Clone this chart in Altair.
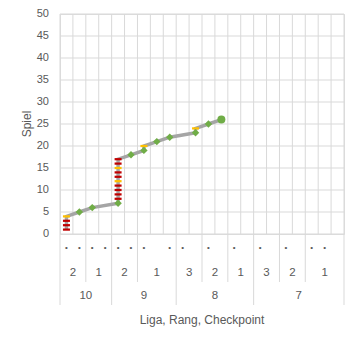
import altair as alt
import pandas as pd

# ---- category axis (one entry per checkpoint category) ----
cat_liga = ["10", "10", "10", "10", "9", "9", "9", "9", "9",
            "8", "8", "8", "8", "8", "8", "7", "7", "7", "7", "7", "7", "7"]
cat_rang = ["2", "2", "1", "1", "2", "2", "1", "1", "1",
            "3", "3", "2", "2", "1", "1", "3", "3", "2", "2", "1", "1", "1"]
cat_checkpoint = ["•", "•", "•", "•", "•", "•", "•", "", "•",
                  "•", "", "•", "", "•", "", "•", "", "•", "", "•", "•", ""]

# ---- series: game number, category index, marker type ----
spiel = [1, 2, 3, 4, 5, 6, 7, 8, 9, 10, 11, 12, 13, 14, 15, 16, 17,
         18, 19, 20, 21, 22, 23, 24, 25, 26]
spiel_cat = [0, 0, 0, 0, 1, 2, 4, 4, 4, 4, 4, 4, 4, 4, 4, 4, 4,
             5, 6, 6, 7, 8, 10, 10, 11, 12]
spiel_typ = ["rot", "rot", "rot", "gelb", "grün", "grün", "grün",
             "rot", "rot", "rot", "rot", "gelb", "rot", "rot", "gelb", "rot", "rot",
             "grün", "grün", "gelb", "grün", "grün", "grün", "gelb", "grün", "aktuell"]
y_ticks = [0, 5, 10, 15, 20, 25, 30, 35, 40, 45, 50]

N = len(cat_liga)
W, H = 284, 220
GRID = "#D9D9D9"
TXT = "#595959"
FONT = "Liberation Sans"

pts = pd.DataFrame({"x": [c + 0.5 for c in spiel_cat], "Spiel": spiel, "typ": spiel_typ})

xs = alt.Scale(domain=[0, N], nice=False, zero=False)
ys = alt.Scale(domain=[0, 50], nice=False, zero=True)

def X():
    return alt.X("x:Q", scale=xs, axis=None)

def Y():
    return alt.Y("Spiel:Q", scale=ys, axis=None)

# gridlines as rules (vertical at every category boundary, horizontal at each tick)
vgrid = alt.Chart(pd.DataFrame({"x": list(range(N + 1))})).mark_rule(
    color=GRID, strokeWidth=1).encode(x=X(), y=alt.value(0), y2=alt.value(H))
hgrid = alt.Chart(pd.DataFrame({"Spiel": y_ticks})).mark_rule(
    color=GRID, strokeWidth=1).encode(y=Y(), x=alt.value(0), x2=alt.value(W))
ylab = alt.Chart(pd.DataFrame({"Spiel": y_ticks})).mark_text(
    font=FONT, fontSize=11, color=TXT, align="right", baseline="middle").encode(
    y=Y(), x=alt.value(-11), text="Spiel:Q")
ytitle = alt.Chart(pd.DataFrame({"t": ["Spiel"]})).mark_text(
    font=FONT, fontSize=12, color=TXT, angle=270, align="center", baseline="middle").encode(
    x=alt.value(-33), y=alt.value(H / 2), text="t:N")

line = alt.Chart(pts).mark_line(color="#A5A5A5", strokeWidth=3.5).encode(
    x=X(), y=Y(), order="Spiel:Q")

dash = "M-1,-0.32L1,-0.32L1,0.32L-1,0.32Z"
red = alt.Chart(pts).transform_filter(alt.datum.typ == "rot").mark_point(
    shape=dash, filled=True, color="#C00000", size=49, opacity=1).encode(x=X(), y=Y())
yellow = alt.Chart(pts).transform_filter(alt.datum.typ == "gelb").mark_point(
    shape=dash, filled=True, color="#FFC000", size=49, opacity=1).encode(x=X(), y=Y())
green = alt.Chart(pts).transform_filter(alt.datum.typ == "grün").mark_point(
    shape="diamond", filled=True, color="#70AD47", size=55, opacity=1).encode(x=X(), y=Y())
last = alt.Chart(pts).transform_filter(alt.datum.typ == "aktuell").mark_point(
    shape="circle", filled=True, color="#70AD47", size=64, opacity=1).encode(x=X(), y=Y())

# ---- multi-level category labels ----
cp = pd.DataFrame({"x": [i + 0.5 for i in range(N)], "t": cat_checkpoint})

def groups(keys):
    out = []
    start = 0
    for i in range(1, N + 1):
        if i == N or keys[i] != keys[start]:
            out.append((start, i, keys[start]))
            start = i
    return out

rang_keys = [l + "|" + r for l, r in zip(cat_liga, cat_rang)]
rg = groups(rang_keys)
lg = groups(cat_liga)
rang_df = pd.DataFrame({"x": [(a + b) / 2 for a, b, k in rg], "t": [k.split("|")[1] for a, b, k in rg]})
liga_df = pd.DataFrame({"x": [(a + b) / 2 for a, b, k in lg], "t": [k for a, b, k in lg]})

liga_bounds = sorted(set([a for a, b, k in lg] + [N]))
rang_bounds = [a for a, b, k in rg if a not in liga_bounds]
sep_r = pd.DataFrame({"x": rang_bounds})
sep_l = pd.DataFrame({"x": liga_bounds})

cp_text = alt.Chart(cp).mark_text(font=FONT, fontSize=8, color=TXT, baseline="middle").encode(
    x=X(), y=alt.value(234), text="t:N")
rang_text = alt.Chart(rang_df).mark_text(font=FONT, fontSize=11.5, color=TXT, baseline="middle").encode(
    x=X(), y=alt.value(259), text="t:N")
liga_text = alt.Chart(liga_df).mark_text(font=FONT, fontSize=11.5, color=TXT, baseline="middle").encode(
    x=X(), y=alt.value(282), text="t:N")
rule_r = alt.Chart(sep_r).mark_rule(color=GRID, strokeWidth=1).encode(
    x=X(), y=alt.value(H), y2=alt.value(268))
rule_l = alt.Chart(sep_l).mark_rule(color=GRID, strokeWidth=1).encode(
    x=X(), y=alt.value(H), y2=alt.value(291))
xtitle = alt.Chart(pd.DataFrame({"t": ["Liga, Rang, Checkpoint"]})).mark_text(
    font=FONT, fontSize=12, color=TXT, baseline="middle", align="center").encode(
    x=alt.value(W / 2), y=alt.value(306), text="t:N")

chart = alt.layer(vgrid, hgrid, line, rule_r, rule_l, red, yellow, green, last,
                  ylab, ytitle, cp_text, rang_text, liga_text, xtitle).properties(
    width=W, height=H,
    autosize=alt.AutoSizeParams(type="none"),
    padding={"left": 60, "top": 14, "right": 3, "bottom": 106},
).configure_view(stroke=None).configure(background="white")

chart.save("out.html", embed_options={"renderer": "svg", "actions": False})
